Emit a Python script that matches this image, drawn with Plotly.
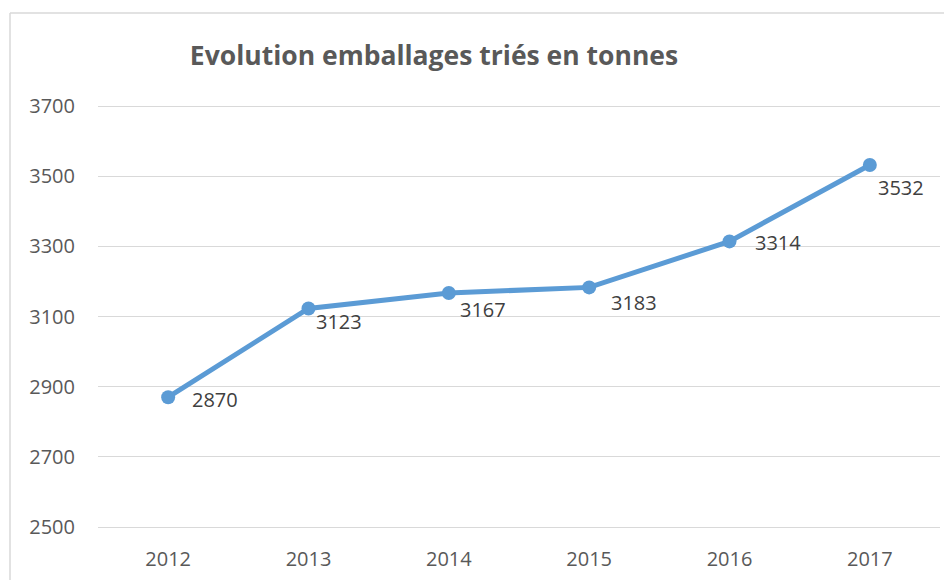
import plotly.graph_objects as go

years = ["2012", "2013", "2014", "2015", "2016", "2017"]
tonnes = [2870, 3123, 3167, 3183, 3314, 3532]
y_ticks = [2500, 2700, 2900, 3100, 3300, 3500, 3700]
title_text = "Evolution emballages triés en tonnes"

# label offsets (pixels) relative to each point: style only
label_dx = [22, 5, 9, 20, 23, 6]
label_dy = [-2, -13, -17, -15, -1, -23]

OFF = 8  # page body margin
W, H = 952 - OFF, 580 - OFF
PAD_PX = 3
ppu = 421 / 1200  # pixels per unit of the reference scale
pad_u = PAD_PX / ppu
L, R = 98 - OFF, 12
T, B = 106 - OFF - PAD_PX, 53 - PAD_PX
pw, ph = W - L - R, H - T - B
y_lo, y_hi = 2500 - pad_u, 3700 + pad_u

fig = go.Figure()
fig.add_trace(go.Scatter(
    x=years, y=tonnes, mode="lines+markers",
    line=dict(color="#5B9BD5", width=5),
    marker=dict(color="#5B9BD5", size=14),
    hoverinfo="x+y", showlegend=False,
))

for i, v in enumerate(tonnes):
    fig.add_annotation(
        x=i, y=v, text=str(v), showarrow=False,
        xanchor="left", yanchor="middle",
        xshift=label_dx[i], yshift=label_dy[i],
        font=dict(family="Open Sans", size=20, color="#404040"),
    )

fig.update_layout(
    width=W, height=H,
    margin=dict(l=L, r=R, t=T, b=B, autoexpand=False),
    paper_bgcolor="white", plot_bgcolor="white",
    title=dict(
        text="<b>" + title_text + "</b>",
        x=(434 - OFF) / W, xref="container", xanchor="center",
        y=1 - (56 - OFF) / H, yref="container", yanchor="middle",
        font=dict(family="Open Sans", size=26.5, color="#595959"),
        automargin=False,
    ),
    xaxis=dict(
        type="category", range=[-0.5, 5.5], automargin=False,
        showgrid=False, zeroline=False, showline=False,
        ticks="", tickfont=dict(family="Open Sans", size=20, color="#595959"),
        ticklabelstandoff=15,
    ),
    yaxis=dict(
        range=[y_lo, y_hi], tickvals=y_ticks, automargin=False,
        showgrid=True, gridcolor="#D9D9D9", gridwidth=1.3,
        zeroline=False, showline=False, ticks="",
        tickfont=dict(family="Open Sans", size=20, color="#595959"),
        ticklabelstandoff=22,
    ),
    shapes=[
        dict(type="line", xref="paper", yref="paper",
             x0=(10 - 98) / pw, x1=(W + 20 - L) / pw,
             y0=1 + (T - 5) / ph, y1=1 + (T - 5) / ph,
             line=dict(color="#D9D9D9", width=1.5)),
        dict(type="line", xref="paper", yref="paper",
             x0=(10 - 98) / pw, x1=(10 - 98) / pw,
             y0=1 + (T - 5) / ph, y1=-(B + 10) / ph,
             line=dict(color="#D9D9D9", width=1.5)),
    ],
)

fig.write_html("out.html")
